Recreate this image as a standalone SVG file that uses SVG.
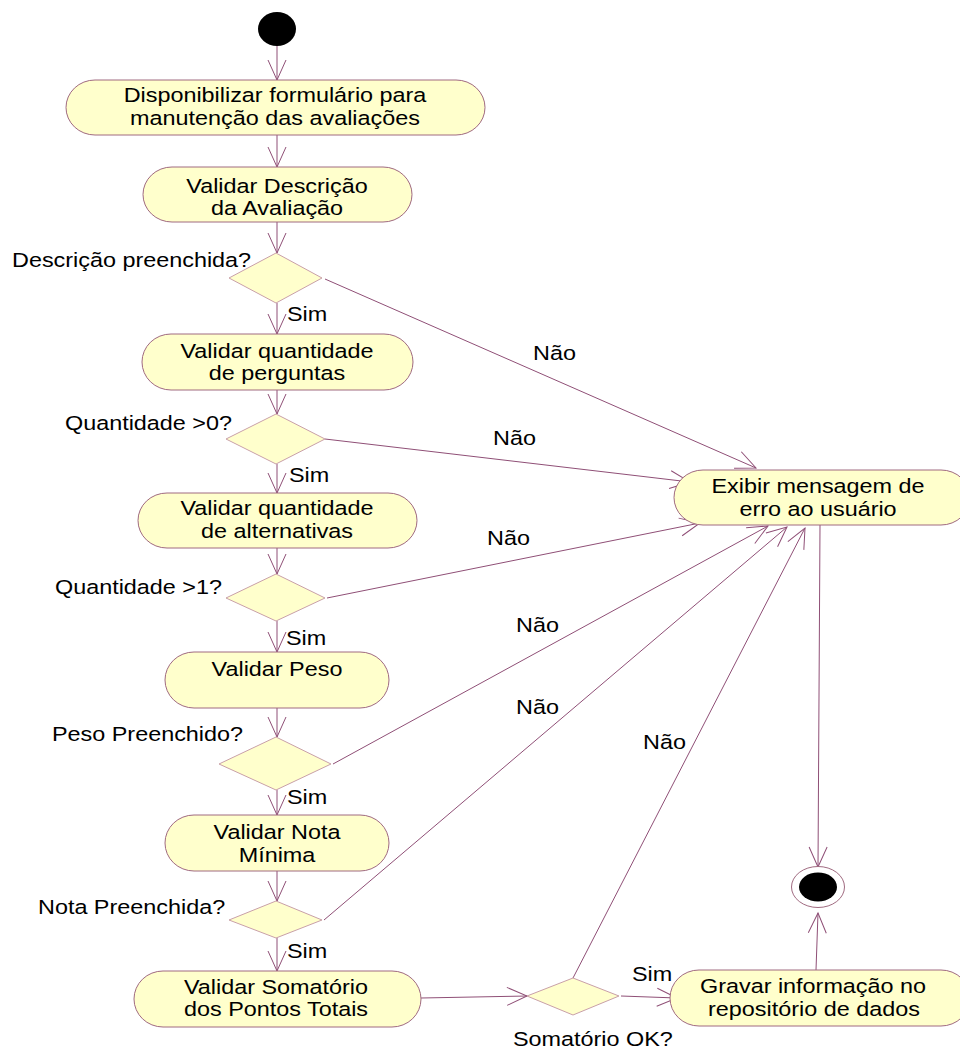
<svg xmlns="http://www.w3.org/2000/svg" width="960" height="1052" viewBox="0 0 960 1052">
  <defs>
    <marker id="open" markerUnits="userSpaceOnUse" markerWidth="24" markerHeight="22" refX="21" refY="10" orient="auto" overflow="visible">
      <path d="M1,1 L21,10 L1,19" fill="none" stroke="#8f4f76" stroke-width="1"/>
    </marker>
  </defs>
  <style>
    .act { fill: #ffffcc; stroke: #a06a80; stroke-width: 1; }
    .dec { fill: #ffffcc; stroke: #c9a0a8; stroke-width: 1; }
    .flow { fill: none; stroke: #8f4f76; stroke-width: 1; marker-end: url(#open); }
    text { font-family: "Liberation Sans", Arial, sans-serif; font-size: 19.5px; fill: #000; }
    .c { text-anchor: middle; }
  </style>
  <rect width="960" height="1052" fill="#ffffff"/>

  <!-- connectors -->
  <g id="connectors">
    <line class="flow" x1="277" y1="45" x2="277" y2="80"/>
    <line class="flow" x1="277" y1="135" x2="277" y2="167"/>
    <line class="flow" x1="277" y1="222" x2="277" y2="253"/>
    <line class="flow" x1="277" y1="303" x2="277" y2="334"/>
    <line class="flow" x1="277" y1="390" x2="277" y2="414"/>
    <line class="flow" x1="277" y1="464" x2="277" y2="493"/>
    <line class="flow" x1="277" y1="548" x2="277" y2="574"/>
    <line class="flow" x1="277" y1="621" x2="277" y2="652"/>
    <line class="flow" x1="277" y1="708" x2="277" y2="737"/>
    <line class="flow" x1="277" y1="790" x2="277" y2="815"/>
    <line class="flow" x1="277" y1="871" x2="277" y2="901"/>
    <line class="flow" x1="277" y1="938" x2="277" y2="971"/>
    <line class="flow" x1="421" y1="998" x2="527" y2="996"/>
    <line class="flow" x1="621" y1="996" x2="677" y2="998"/>
    <line class="flow" x1="573" y1="978" x2="805" y2="528"/>
    <line class="flow" x1="816" y1="970" x2="818" y2="913"/>
    <line class="flow" x1="820" y1="525" x2="818" y2="867"/>
    <line class="flow" x1="325" y1="279" x2="756" y2="468"/>
    <line class="flow" x1="325" y1="439" x2="690" y2="482"/>
    <line class="flow" x1="327" y1="598" x2="700" y2="523"/>
    <line class="flow" x1="333" y1="764" x2="768" y2="526"/>
    <line class="flow" x1="324" y1="920" x2="787" y2="527"/>
  </g>

  <!-- start -->
  <g id="start">
    <ellipse cx="277" cy="29" rx="19" ry="17" fill="#000"/>
  </g>

  <g id="n1">
    <rect class="act" x="66" y="80" width="419" height="55" rx="29" ry="27.5"/>
    <text class="c" transform="translate(275,102) scale(1.2,1)">Disponibilizar formulário para</text>
    <text class="c" transform="translate(275,125) scale(1.2,1)">manutenção das avaliações</text>
  </g>

  <g id="n2">
    <rect class="act" x="143" y="167" width="269" height="55" rx="29" ry="27.5"/>
    <text class="c" transform="translate(277,193) scale(1.2,1)">Validar Descrição</text>
    <text class="c" transform="translate(277,215) scale(1.2,1)">da Avaliação</text>
  </g>

  <g id="d1">
    <polygon class="dec" points="276,253 322,278 276,303 229,278"/>
    <text transform="translate(12,267) scale(1.2,1)">Descrição preenchida?</text>
  </g>

  <g id="n3">
    <rect class="act" x="142" y="334" width="271" height="56" rx="29" ry="28"/>
    <text class="c" transform="translate(277,358) scale(1.2,1)">Validar quantidade</text>
    <text class="c" transform="translate(277,380) scale(1.2,1)">de perguntas</text>
  </g>

  <g id="d2">
    <polygon class="dec" points="276,414 325,439 276,464 226,439"/>
    <text transform="translate(65,430) scale(1.2,1)">Quantidade &gt;0?</text>
  </g>

  <g id="n4">
    <rect class="act" x="138" y="493" width="279" height="55" rx="29" ry="27.5"/>
    <text class="c" transform="translate(277,515) scale(1.2,1)">Validar quantidade</text>
    <text class="c" transform="translate(277,538) scale(1.2,1)">de alternativas</text>
  </g>

  <g id="d3">
    <polygon class="dec" points="276,574 325,598 276,621 226,598"/>
    <text transform="translate(55,594) scale(1.2,1)">Quantidade &gt;1?</text>
  </g>

  <g id="n5">
    <rect class="act" x="165" y="652" width="224" height="56" rx="29" ry="28"/>
    <text class="c" transform="translate(277,676) scale(1.2,1)">Validar Peso</text>
  </g>

  <g id="d4">
    <polygon class="dec" points="276,737 331,764 276,790 219,764"/>
    <text transform="translate(52,741) scale(1.2,1)">Peso Preenchido?</text>
  </g>

  <g id="n6">
    <rect class="act" x="165" y="815" width="224" height="56" rx="29" ry="28"/>
    <text class="c" transform="translate(277,839) scale(1.2,1)">Validar Nota</text>
    <text class="c" transform="translate(277,862) scale(1.2,1)">Mínima</text>
  </g>

  <g id="d5">
    <polygon class="dec" points="276,901 322,920 276,938 229,920"/>
    <text transform="translate(38,914) scale(1.2,1)">Nota Preenchida?</text>
  </g>

  <g id="n7">
    <rect class="act" x="134" y="971" width="287" height="56" rx="29" ry="28"/>
    <text class="c" transform="translate(276,994) scale(1.2,1)">Validar Somatório</text>
    <text class="c" transform="translate(276,1016) scale(1.2,1)">dos Pontos Totais</text>
  </g>

  <g id="d6">
    <polygon class="dec" points="573,978 619,996 573,1015 527,996"/>
    <text transform="translate(513,1046) scale(1.2,1)">Somatório OK?</text>
  </g>

  <g id="n8">
    <rect class="act" x="670" y="970" width="300" height="56" rx="29" ry="28"/>
    <text class="c" transform="translate(813,993) scale(1.2,1)">Gravar informação no</text>
    <text class="c" transform="translate(814,1016) scale(1.2,1)">repositório de dados</text>
  </g>

  <g id="err">
    <rect class="act" x="674" y="470" width="296" height="55" rx="29" ry="27.5"/>
    <text class="c" transform="translate(818,493) scale(1.2,1)">Exibir mensagem de</text>
    <text class="c" transform="translate(818,516) scale(1.2,1)">erro ao usuário</text>
  </g>

  <g id="end">
    <ellipse cx="818" cy="887" rx="26.5" ry="20.5" fill="#ffffff" stroke="#a06a80" stroke-width="1"/>
    <ellipse cx="818" cy="887" rx="19" ry="14.5" fill="#000"/>
  </g>

  <!-- guard labels -->
  <g id="labels">
    <text transform="translate(287,321) scale(1.2,1)">Sim</text>
    <text transform="translate(289,482) scale(1.2,1)">Sim</text>
    <text transform="translate(286,645) scale(1.2,1)">Sim</text>
    <text transform="translate(287,804) scale(1.2,1)">Sim</text>
    <text transform="translate(287,958) scale(1.2,1)">Sim</text>
    <text transform="translate(632,981) scale(1.2,1)">Sim</text>
    <text transform="translate(533,360) scale(1.2,1)">Não</text>
    <text transform="translate(493,445) scale(1.2,1)">Não</text>
    <text transform="translate(487,545) scale(1.2,1)">Não</text>
    <text transform="translate(516,632) scale(1.2,1)">Não</text>
    <text transform="translate(516,714) scale(1.2,1)">Não</text>
    <text transform="translate(643,749) scale(1.2,1)">Não</text>
  </g>
</svg>
